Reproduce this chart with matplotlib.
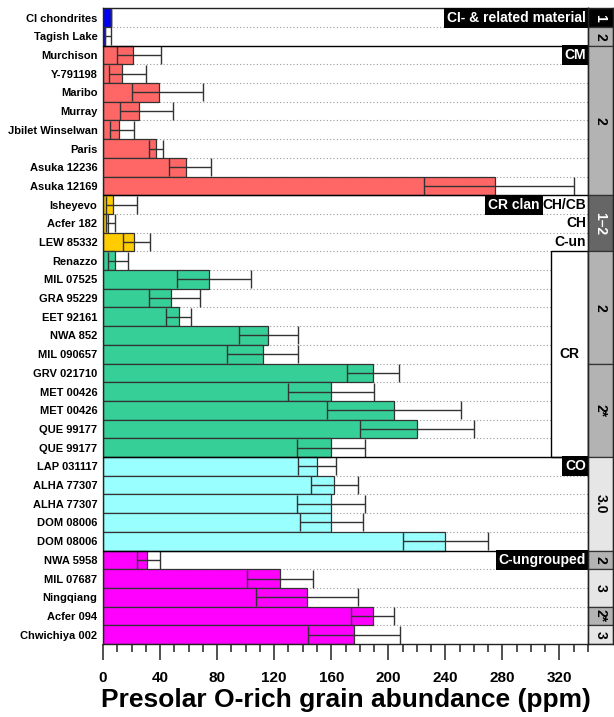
import matplotlib
matplotlib.use("Agg")
import matplotlib.pyplot as plt
from matplotlib.patches import Rectangle
from matplotlib.ticker import MultipleLocator

plt.rcParams['font.family'] = ['Liberation Sans', 'DejaVu Sans']
plt.rcParams['font.weight'] = 'bold'

# ---- data -------------------------------------------------------------
meteorites = [
    "CI chondrites", "Tagish Lake",
    "Murchison", "Y-791198", "Maribo", "Murray", "Jbilet Winselwan",
    "Paris", "Asuka 12236", "Asuka 12169",
    "Isheyevo", "Acfer 182", "LEW 85332",
    "Renazzo", "MIL 07525", "GRA 95229", "EET 92161", "NWA 852",
    "MIL 090657", "GRV 021710", "MET 00426", "MET 00426", "QUE 99177",
    "QUE 99177",
    "LAP 031117", "ALHA 77307", "ALHA 77307", "DOM 08006", "DOM 08006",
    "NWA 5958", "MIL 07687", "Ningqiang", "Acfer 094", "Chwichiya 002",
]
abundance = [5.6, 1.7,
             21, 13, 39, 25, 11, 37, 58, 275,
             7, 3.7, 22,
             8.7, 74, 48, 53, 116, 112, 189, 160, 204, 220, 160,
             150, 162, 160, 160, 240,
             30.7, 124, 143, 189, 176]
err_minus = [0, 0.6,
             11, 9, 19, 13, 6, 5, 12, 50,
             5, 1.5, 8,
             5, 22, 15.5, 9, 21, 25, 18, 30, 47, 40, 24,
             13, 16, 24, 22, 30,
             6.6, 23, 36, 15, 32]
err_plus = [0, 4,
            20, 17, 31, 24, 11, 5, 18, 55,
            17, 5, 11,
            9, 30, 20, 9, 21, 25, 18.5, 30, 47, 40, 24,
            13, 16.5, 24, 22, 30,
            9.3, 23, 36, 15, 32]

# group index of each meteorite (for bar colour)
group_of_row = [0, 0] + [1] * 8 + [2] * 3 + [3] * 11 + [4] * 5 + [5] * 5
group_colors = ['#0000ff', '#ff6666', '#ffcc00', '#36cf97', '#99ffff', '#ff00ff']

# solid separators between chondrite groups (row boundaries)
group_breaks = [1.5, 9.5, 23.5, 28.5]

# petrologic type column: (first row, last row + 1, label, face, text colour)
type_blocks = [
    (0, 1, '1', 'black', 'white'),
    (1, 2, '2', '#b3b3b3', 'black'),
    (2, 10, '2', '#b3b3b3', 'black'),
    (10, 13, '1\u20132', '#666666', 'white'),
    (13, 19, '2', '#b3b3b3', 'black'),
    (19, 24, '2*', '#b3b3b3', 'black'),
    (24, 29, '3.0', '#e6e6e6', 'black'),
    (29, 30, '2', '#b3b3b3', 'black'),
    (30, 32, '3', '#e6e6e6', 'black'),
    (32, 33, '2*', '#b3b3b3', 'black'),
    (33, 34, '3', '#e6e6e6', 'black'),
]

x_max = 340
x_ticks = [0, 40, 80, 120, 160, 200, 240, 280, 320]

# ---- figure -----------------------------------------------------------
W, H = 614, 717
fig = plt.figure(figsize=(W / 100, H / 100), dpi=100)
left, right, top, bottom = 103, 588, 8.3, 644
ax = fig.add_axes([left / W, 1 - bottom / H, (right - left) / W, (bottom - top) / H])
tax = fig.add_axes([right / W, 1 - bottom / H, 24.5 / W, (bottom - top) / H])

n = len(meteorites)
rows = list(range(n))
colors = [group_colors[g] for g in group_of_row]

# dotted row separators inside groups
inner = [i + 0.5 for i in range(n - 1) if (i + 0.5) not in group_breaks]
ax.hlines(inner, 0, x_max, colors='#9a9a9a', linestyles=(0, (1, 2)),
          linewidth=0.8, zorder=0.5)

ax.barh(rows, abundance, height=1.0, color=colors, edgecolor='#333333',
        linewidth=0.9, zorder=2)

ax.errorbar(abundance, rows, xerr=[err_minus, err_plus], fmt='none',
            ecolor='#333333', elinewidth=1.0, capsize=6.3, capthick=1.0,
            zorder=3)

for yb in group_breaks:
    ax.axhline(yb, color='black', linewidth=1.0, zorder=4)

# CR sub-group box
cr_x0 = (550.7 - left) / (right - left) * x_max
ax.add_patch(Rectangle((cr_x0, 12.5), x_max - cr_x0, 11, facecolor='white',
                       edgecolor='black', linewidth=1.0, zorder=1.5))
ax.text((cr_x0 + x_max) / 2, 18, 'CR', ha='center', va='center',
        fontsize=10, fontweight='bold', zorder=5)

ytr = ax.get_yaxis_transform()
box = dict(boxstyle='square,pad=0.22', facecolor='black', edgecolor='none')
for label, y in [("CI- & related material", 0), ("CM", 2), ("CO", 24),
                 ("C-ungrouped", 29)]:
    ax.text(0.996, y, label, transform=ytr, ha='right', va='center',
            color='white', fontsize=10, fontweight='bold', bbox=box, zorder=6)
ax.text(0.900, 10, "CR clan", transform=ytr, ha='right', va='center',
        color='white', fontsize=10, fontweight='bold', bbox=box, zorder=6)
for label, y in [("CH/CB", 10), ("CH", 11), ("C-un", 12)]:
    ax.text(0.996, y, label, transform=ytr, ha='right', va='center',
            color='black', fontsize=10, fontweight='bold', zorder=6)

ax.set_xlim(0, x_max)
ax.set_ylim(n - 0.5, -0.5)
ax.set_yticks(rows)
ax.set_yticklabels(meteorites, fontsize=8, fontweight='bold')
ax.tick_params(axis='y', length=0, pad=4)
ax.xaxis.set_major_locator(MultipleLocator(40))
ax.xaxis.set_minor_locator(MultipleLocator(10))
ax.set_xticks(x_ticks)
ax.set_xticklabels([str(t) for t in x_ticks], fontsize=11, fontweight='bold')
ax.tick_params(axis='x', which='major', direction='out', length=11.5,
               width=1.2, pad=8, color='#333333')
ax.tick_params(axis='x', which='minor', direction='out', length=5.8,
               width=1.2, color='#333333')
ax.set_xlabel('Presolar O-rich grain abundance (ppm)', fontsize=19,
              fontweight='bold', labelpad=2)
for s in ax.spines.values():
    s.set_linewidth(1.0)
    s.set_color('#222222')

# petrologic type column
for r0, r1, label, face, tc in type_blocks:
    tax.barh((r0 + r1 - 1) / 2, 1, height=r1 - r0, left=0, color=face,
             edgecolor='#333333', linewidth=0.9)
    tax.text(0.5, (r0 + r1 - 1) / 2, label, ha='center', va='center',
             rotation=-90, color=tc, fontsize=10, fontweight='bold')
tax.set_xlim(0, 1)
tax.set_ylim(n - 0.5, -0.5)
tax.set_xticks([])
tax.set_yticks([])
for s in tax.spines.values():
    s.set_linewidth(1.0)
    s.set_color('#222222')

fig.savefig('out.png', dpi=100)
